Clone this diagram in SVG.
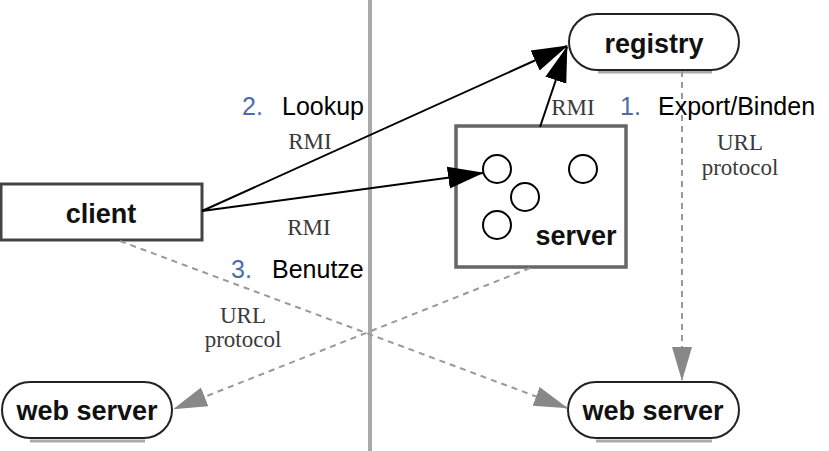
<svg xmlns="http://www.w3.org/2000/svg" width="829" height="451" viewBox="0 0 829 451">
<style>
.lbl{font-family:"Liberation Sans",Arial,sans-serif;font-size:25px;fill:#000}
.num{font-family:"Liberation Sans",Arial,sans-serif;font-size:25px;fill:#4a6ea8}
.node{font-family:"Liberation Sans",Arial,sans-serif;font-size:27px;font-weight:bold;fill:#111;text-anchor:middle}
.ser{font-family:"Liberation Serif","Times New Roman",serif;font-size:23px;fill:#3a3a3a;text-anchor:middle}
.pill{fill:#fff;stroke:#222;stroke-width:2}
.shadow{stroke:#aaa;stroke-width:3}
.solid{stroke:#000;stroke-width:2;fill:none}
.dash{stroke:#999;stroke-width:2;stroke-dasharray:6 5;fill:none}
.circ{fill:#fff;stroke:#000;stroke-width:2}
</style>
<defs>
<marker id="ah" markerUnits="userSpaceOnUse" markerWidth="36" markerHeight="24" refX="35" refY="12" orient="auto">
<path d="M0,1 L36,12 L0,23 z" fill="#000"/>
</marker>
<marker id="gh" markerUnits="userSpaceOnUse" markerWidth="34" markerHeight="22" refX="33" refY="11" orient="auto">
<path d="M0,1 L34,11 L0,21 z" fill="#888"/>
</marker>
</defs>
<rect width="829" height="451" fill="#fff"/>
<line x1="370" y1="0" x2="370" y2="451" stroke="#aaa" stroke-width="4"/>
<g id="client">
<rect x="1" y="184" width="201" height="56" fill="#fff" stroke="#444" stroke-width="3"/>
<text class="node" x="101" y="223">client</text>
</g>
<g id="server">
<rect x="456" y="126" width="170" height="141" fill="#fff" stroke="#666" stroke-width="3.5"/>
<circle class="circ" cx="497" cy="169" r="14"/>
<circle class="circ" cx="583" cy="169" r="14"/>
<circle class="circ" cx="525" cy="197" r="14"/>
<circle class="circ" cx="497" cy="225" r="14"/>
<text class="node" x="576" y="245">server</text>
</g>
<g id="registry">
<line class="shadow" x1="598" y1="72" x2="712" y2="72"/>
<rect class="pill" x="569" y="14" width="170" height="56" rx="28"/>
<text class="node" x="654" y="53">registry</text>
</g>
<g id="webserver-left">
<line class="shadow" x1="30" y1="441" x2="145" y2="441"/>
<rect class="pill" x="2" y="382" width="170" height="56" rx="28"/>
<text class="node" x="87" y="420">web server</text>
</g>
<g id="webserver-right">
<line class="shadow" x1="596" y1="441" x2="712" y2="441"/>
<rect class="pill" x="568" y="382" width="171" height="56" rx="28"/>
<text class="node" x="653" y="420">web server</text>
</g>
<g id="connectors">
<line class="solid" x1="202" y1="211" x2="567" y2="46" marker-end="url(#ah)"/>
<line class="solid" x1="202" y1="211" x2="483" y2="173" marker-end="url(#ah)"/>
<line class="solid" x1="540" y1="127" x2="567" y2="47" marker-end="url(#ah)"/>
<line class="dash" x1="682" y1="71" x2="682" y2="380" marker-end="url(#gh)"/>
<line class="dash" x1="120" y1="241" x2="567" y2="408" marker-end="url(#gh)"/>
<line class="dash" x1="530" y1="268" x2="174" y2="409" marker-end="url(#gh)"/>
</g>
<g id="labels">
<text class="num" x="242" y="115">2.</text>
<text class="lbl" x="282" y="115">Lookup</text>
<text class="ser" x="310" y="149">RMI</text>
<text class="ser" x="309" y="235">RMI</text>
<text class="num" x="231" y="278">3.</text>
<text class="lbl" x="272" y="278">Benutze</text>
<text class="ser" x="243" y="323">URL</text>
<text class="ser" x="243" y="347">protocol</text>
<text class="ser" x="573" y="115">RMI</text>
<text class="num" x="620" y="115">1.</text>
<text class="lbl" x="658" y="115">Export/Binden</text>
<text class="ser" x="740" y="150">URL</text>
<text class="ser" x="740" y="175">protocol</text>
</g>
</svg>
